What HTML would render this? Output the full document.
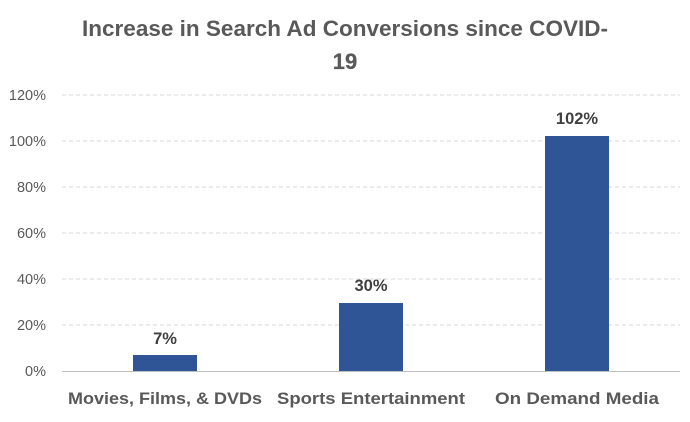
<!DOCTYPE html>
<html><head><style>
body{margin:0;background:#fff;}
svg text{font-family:"Liberation Sans",sans-serif;}
</style></head><body>
<svg width="690" height="417" xmlns="http://www.w3.org/2000/svg">
<rect width="690" height="417" fill="#fff"/>
<text x="345" y="36" text-anchor="middle" font-size="22" font-weight="bold" fill="#595959" textLength="526" lengthAdjust="spacingAndGlyphs">Increase in Search Ad Conversions since COVID-</text>
<text x="345" y="69" text-anchor="middle" font-size="22" font-weight="bold" fill="#595959" stroke="#595959" stroke-width="0.3">19</text>
<g stroke="#d9d9d9" stroke-dasharray="4,3" stroke-width="1">
<line x1="62" x2="680" y1="95" y2="95"/>
<line x1="62" x2="680" y1="141" y2="141"/>
<line x1="62" x2="680" y1="187" y2="187"/>
<line x1="62" x2="680" y1="233" y2="233"/>
<line x1="62" x2="680" y1="279" y2="279"/>
<line x1="62" x2="680" y1="325" y2="325"/>
</g>
<line x1="62" x2="680" y1="371.5" y2="371.5" stroke="#bfbfbf"/>
<g font-size="14.5" fill="#595959" text-anchor="end">
<text x="46" y="100">120%</text>
<text x="46" y="146">100%</text>
<text x="46" y="192">80%</text>
<text x="46" y="238">60%</text>
<text x="46" y="284">40%</text>
<text x="46" y="330">20%</text>
<text x="46" y="376">0%</text>
</g>
<g fill="#2f5597">
<rect x="133" y="355" width="64" height="16"/>
<rect x="339" y="303" width="64" height="68"/>
<rect x="545" y="136" width="64" height="235"/>
</g>
<g font-size="16.5" font-weight="bold" fill="#404040" text-anchor="middle">
<text x="165" y="344">7%</text>
<text x="371" y="291">30%</text>
<text x="577" y="124">102%</text>
</g>
<g font-size="16.5" font-weight="bold" fill="#595959" text-anchor="middle">
<text x="165" y="404" textLength="194" lengthAdjust="spacingAndGlyphs">Movies, Films, &amp; DVDs</text>
<text x="371" y="404" textLength="188" lengthAdjust="spacingAndGlyphs">Sports Entertainment</text>
<text x="577" y="404" textLength="164" lengthAdjust="spacingAndGlyphs">On Demand Media</text>
</g>
</svg>
</body></html>
